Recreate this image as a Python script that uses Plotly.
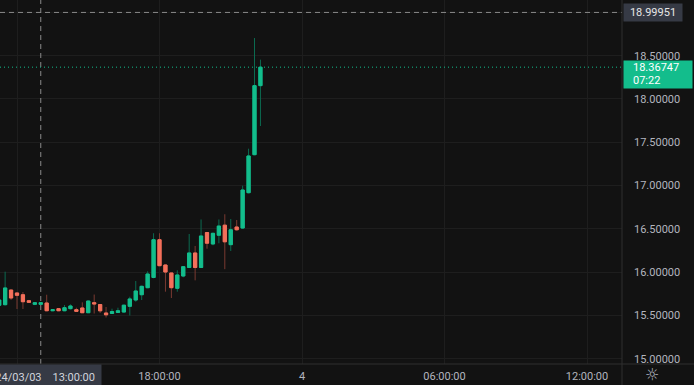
import pandas as pd
import plotly.graph_objects as go

# ---- data (15-minute candles, 2024-03-03 11:15 -> 22:15) ----
start_time = "2024-03-03 11:15"
opens = [15.618, 15.625, 15.794, 15.760, 15.740, 15.671, 15.629, 15.629, 15.644, 15.555,
         15.579, 15.555, 15.579, 15.567, 15.587, 15.532, 15.648, 15.627, 15.529, 15.523,
         15.535, 15.540, 15.606, 15.679, 15.740, 15.821, 15.939, 16.375, 16.083, 15.991,
         15.814, 15.956, 16.054, 16.222, 16.054, 16.458, 16.326, 16.427, 16.543, 16.318,
         16.522, 16.510, 16.918, 17.357, 18.154]
highs = [15.690, 16.006, 15.800, 15.765, 15.771, 15.680, 15.655, 15.655, 15.740, 15.575,
         15.585, 15.621, 15.629, 15.590, 15.652, 15.672, 15.742, 15.630, 15.598, 15.579,
         15.590, 15.625, 15.717, 15.898, 15.845, 16.010, 16.450, 16.450, 16.090, 15.995,
         16.022, 16.070, 16.441, 16.303, 16.609, 16.460, 16.455, 16.609, 16.669, 16.614,
         16.603, 16.999, 17.426, 18.704, 18.454]
lows = [15.610, 15.615, 15.680, 15.575, 15.575, 15.645, 15.620, 15.625, 15.550, 15.550,
        15.550, 15.550, 15.570, 15.545, 15.530, 15.530, 15.523, 15.529, 15.477, 15.520,
        15.530, 15.535, 15.500, 15.659, 15.679, 15.815, 15.930, 16.070, 15.775, 15.702,
        15.775, 15.941, 16.050, 15.906, 16.050, 16.271, 16.311, 16.334, 16.035, 16.245,
        16.480, 16.500, 16.910, 17.350, 17.688]
closes = [15.679, 15.818, 15.702, 15.733, 15.659, 15.652, 15.648, 15.648, 15.555, 15.567,
          15.555, 15.590, 15.610, 15.548, 15.532, 15.667, 15.633, 15.554, 15.508, 15.546,
          15.555, 15.619, 15.691, 15.783, 15.837, 15.979, 16.375, 16.075, 16.002, 15.821,
          15.968, 16.064, 16.222, 16.054, 16.418, 16.335, 16.449, 16.533, 16.351, 16.490,
          16.490, 16.949, 17.342, 18.154, 18.36747]

last_price = 18.36747
countdown = "07:22"
crosshair_price = 18.99951
crosshair_time = "2024-03-03 13:00"
crosshair_label = "2024/03/03    13:00:00"

price_ticks = [15.0, 15.5, 16.0, 16.5, 17.0, 17.5, 18.0, 18.5]
time_tickvals = ["2024-03-03 12:00", "2024-03-03 18:00", "2024-03-04 00:00",
                 "2024-03-04 06:00", "2024-03-04 12:00"]
time_ticktext = ["", "18:00:00", "4", "06:00:00", "12:00:00"]

x_range = ["2024-03-03 11:17:03", "2024-03-04 13:28:25"]
y_range = [14.940, 19.143]

# ---- styles ----
BG = "#121212"
GRID = "#1e1e1e"
SEP = "#2e2e2e"
TXT = "#b2b5be"
UP = "#13bd8c"
DN = "#f4705b"
UP_W = "#0b6a50"
DN_W = "#7a3a31"
FONT = "Roboto"

times = pd.date_range(start_time, periods=len(opens), freq="15min")
body_hi = [max(o, c) for o, c in zip(opens, closes)]
body_lo = [min(o, c) for o, c in zip(opens, closes)]

fig = go.Figure()
# wicks (dark)
fig.add_trace(go.Candlestick(
    x=times, open=opens, high=highs, low=lows, close=closes,
    increasing=dict(line=dict(color=UP_W, width=1), fillcolor=UP),
    decreasing=dict(line=dict(color=DN_W, width=1), fillcolor=DN),
    whiskerwidth=0, hoverinfo="skip", showlegend=False))
# bodies (bright)
fig.add_trace(go.Candlestick(
    x=times, open=opens, high=body_hi, low=body_lo, close=closes,
    increasing=dict(line=dict(color=UP, width=1), fillcolor=UP),
    decreasing=dict(line=dict(color=DN, width=1), fillcolor=DN),
    whiskerwidth=0, hoverinfo="skip", showlegend=False))

shapes = [
    # horizontal grid line at 19.0 (its label is hidden by the crosshair label)
    dict(type="line", xref="paper", yref="y", x0=0, x1=1, y0=19.0, y1=19.0,
         line=dict(color=GRID, width=1), layer="below"),
    # crosshair
    dict(type="line", xref="x", yref="paper", x0=crosshair_time, x1=crosshair_time, y0=0, y1=1,
         line=dict(color="#8a8a8a", width=1, dash="5px,4px")),
    dict(type="line", xref="paper", yref="y", x0=0, x1=1, y0=crosshair_price, y1=crosshair_price,
         line=dict(color="#8a8a8a", width=1, dash="5px,4px")),
    # last price line
    dict(type="line", xref="paper", yref="y", x0=0, x1=1, y0=last_price, y1=last_price,
         line=dict(color=UP, width=1, dash="1px,3px")),
    # separators
    dict(type="line", xref="paper", yref="paper", x0=1, x1=1, y0=-21 / 364, y1=1,
         line=dict(color=SEP, width=1)),
    dict(type="line", xref="paper", yref="paper", x0=0, x1=694 / 622, y0=0, y1=0,
         line=dict(color=SEP, width=1)),
]

annotations = [
    dict(xref="paper", yref="paper", x=102 / 622, y=0, xanchor="right", yanchor="top",
         text=crosshair_label, showarrow=False, bgcolor="#363a45", borderpad=6,
         font=dict(family=FONT, size=11, color="#d1d4dc")),
    dict(xref="paper", yref="y", x=1, y=crosshair_price, xanchor="left", yanchor="middle",
         xshift=1, text=f"{crosshair_price:.5f}", showarrow=False, bgcolor="#363a45",
         borderpad=2, width=54, align="center",
         font=dict(family=FONT, size=11, color="#e6e6e6")),
    dict(xref="paper", yref="y", x=1, y=last_price, xanchor="left", yanchor="top",
         xshift=1, yshift=7, text=" ", showarrow=False, bgcolor=UP,
         borderpad=0, width=68, height=27),
    dict(xref="paper", yref="y", x=1, y=last_price, xanchor="left", yanchor="middle",
         xshift=9, text=f"{last_price:.5f}", showarrow=False,
         font=dict(family=FONT, size=11, color="#ffffff")),
    dict(xref="paper", yref="y", x=1, y=last_price, xanchor="left", yanchor="middle",
         xshift=9, yshift=-13, text=countdown, showarrow=False,
         font=dict(family=FONT, size=11, color="#ffffff")),
    dict(xref="paper", yref="paper", x=652 / 622, y=-11 / 364, xanchor="center", yanchor="middle",
         text="\u263C", showarrow=False, font=dict(family="DejaVu Sans", size=16, color=TXT)),
]

fig.update_layout(
    width=694, height=385,
    margin=dict(l=0, r=72, t=0, b=21),
    paper_bgcolor=BG, plot_bgcolor=BG,
    boxgap=0.22,
    shapes=shapes, annotations=annotations,
    font=dict(family=FONT, size=11, color=TXT),
    xaxis=dict(type="date", range=x_range, rangeslider=dict(visible=False),
               tickvals=time_tickvals, ticktext=time_ticktext,
               showgrid=True, gridcolor=GRID, gridwidth=1, zeroline=False,
               showline=False, ticks="", ticklabelstandoff=4,
               tickfont=dict(family=FONT, size=11, color=TXT)),
    yaxis=dict(side="right", range=y_range, tickvals=price_ticks, tickformat=".5f",
               showgrid=True, gridcolor=GRID, gridwidth=1, zeroline=False,
               showline=False, ticks="", ticklabelstandoff=11,
               tickfont=dict(family=FONT, size=11, color=TXT)),
    hovermode=False,
)

fig.write_html("out.html")
